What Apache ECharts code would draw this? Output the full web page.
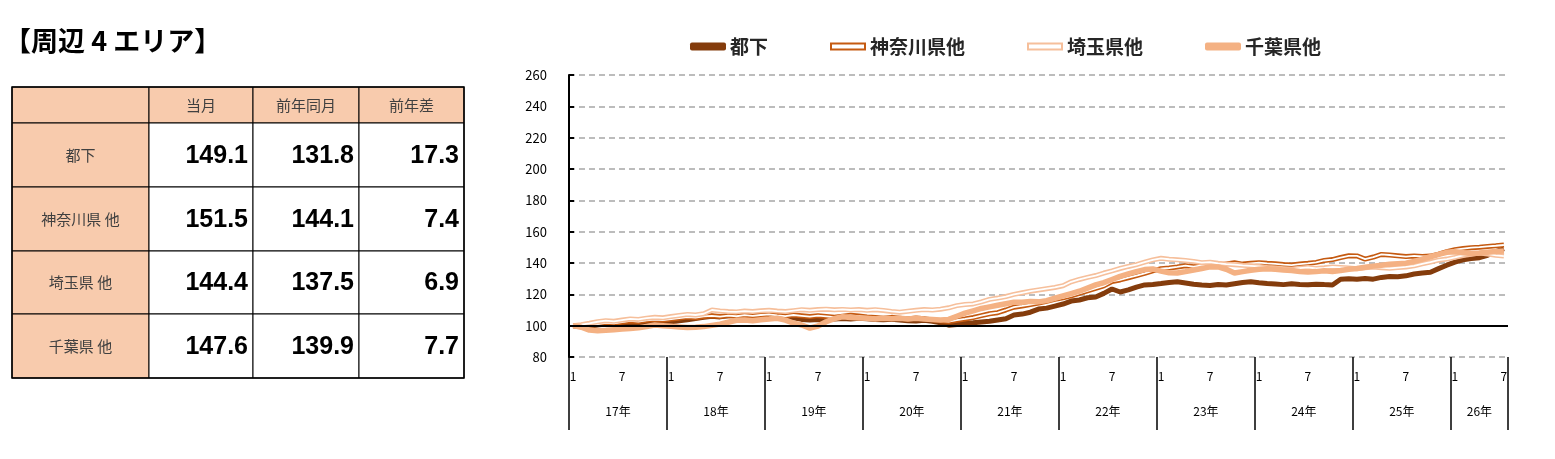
<!DOCTYPE html>
<html>
<head>
<meta charset="utf-8">
<script src="https://cdn.jsdelivr.net/npm/echarts@6.0.0/dist/echarts.min.js"></script>
<style>
  html, body { margin: 0; padding: 0; background: #fff; }
  #chart { width: 1555px; height: 459px; }
</style>
</head>
<body>
<div id="chart"></div>
<script>
// ---- data ----
var yearLabels = ['17年', '18年', '19年', '20年', '21年', '22年', '23年', '24年', '25年', '26年'];
var monthsInLastYear = 7;

var seriesNames = ['都下', '神奈川県他', '埼玉県他', '千葉県他'];

// 2017/1 .. 2026/7, index 2017/1 = 100
var tokaData = [
  100.0, 99.8, 99.6, 100.4, 101.0, 100.7, 101.4, 101.9, 101.4, 102.0, 102.4, 102.1,
  102.5, 103.2, 103.8, 104.5, 105.3, 106.0, 105.6, 106.3, 106.8, 106.4, 106.9, 106.5,
  106.2, 106.7, 106.0, 105.0, 104.0, 103.6, 104.0, 103.8, 104.2, 104.6, 104.3, 104.7,
  104.4, 104.0, 103.7, 104.1, 103.6, 103.2, 102.9, 103.4, 102.8, 101.9, 100.3, 100.8,
  101.6, 101.8, 102.4, 102.8, 103.6, 104.4, 106.8, 107.4, 108.6, 110.6, 111.2, 112.5,
  113.8, 115.7, 116.4, 117.8, 118.3, 120.6, 123.4, 121.5, 122.8, 124.6, 126.0, 126.3,
  126.9, 127.6, 128.0, 127.2, 126.4, 126.0, 125.7, 126.3, 126.0, 126.8, 127.6, 128.0,
  127.4, 126.9, 126.6, 126.2, 126.7, 126.3, 126.1, 126.5, 126.2, 126.0, 129.6, 129.9,
  129.6, 130.1, 129.7, 130.8, 131.4, 131.2, 131.8, 133.0, 133.6, 134.1, 136.4, 138.6,
  140.6, 142.0, 142.8, 143.4, 144.9, 147.2, 149.1
];
var kanagawaData = [
  100.0, 99.6, 100.2, 101.0, 101.8, 101.4, 102.3, 103.0, 102.6, 103.4, 103.9, 103.5,
  104.2, 104.8, 105.5, 105.1, 105.9, 106.3, 105.8, 106.4, 106.0, 106.7, 106.2, 106.8,
  107.2, 106.6, 106.1, 106.8, 106.3, 105.8, 106.4, 105.9, 105.4, 106.0, 106.6, 106.1,
  105.6, 105.2, 104.7, 105.3, 104.8, 104.2, 104.9, 104.4, 103.7, 103.1, 102.6, 103.5,
  104.3, 105.2, 106.4, 107.6, 108.3, 110.0, 111.8, 112.6, 113.5, 114.4, 115.6, 116.8,
  117.8, 119.0, 120.6, 122.2, 123.8, 125.4, 128.2, 129.2, 130.6, 132.0, 133.4, 135.0,
  136.4, 136.8, 137.5, 138.3, 137.6, 138.5, 139.2, 138.6, 139.4, 140.1, 139.3, 139.8,
  140.2, 139.8, 139.5, 139.0, 138.7, 139.3, 139.8, 140.4, 141.6, 142.2, 143.5, 144.6,
  144.5, 142.5, 143.8, 145.5, 145.1, 144.6, 144.1, 144.5, 144.2, 144.4, 145.6, 147.2,
  148.5, 149.2, 149.8, 150.1, 150.6, 151.0, 151.5
];
var saitamaData = [
  100.0, 100.6, 101.5, 102.5, 103.2, 102.8, 103.6, 104.3, 104.0, 104.8, 105.3, 105.0,
  105.8, 106.5, 107.2, 106.8, 107.6, 110.0, 109.4, 109.0, 108.8, 109.3, 109.0, 109.5,
  109.8, 109.3, 109.0, 109.6, 110.2, 109.8, 110.3, 110.5, 110.1, 110.4, 110.0, 110.3,
  109.8, 110.2, 109.7, 109.1, 108.6, 109.2, 109.8, 110.3, 110.0, 110.5, 111.4, 112.8,
  113.5, 113.9, 115.2, 116.8, 117.6, 118.6, 120.0, 121.0, 122.0, 122.8, 123.6, 124.4,
  125.5, 128.0, 129.5, 130.8, 132.0, 133.6, 135.0, 136.5, 137.8, 139.0, 140.5, 142.0,
  143.0, 142.4, 142.0, 141.6, 141.0, 140.2, 140.5, 139.8, 139.3, 138.9, 138.5, 138.2,
  137.8, 137.2, 136.8, 136.4, 136.0, 136.7, 137.2, 136.5, 136.9, 137.5, 137.2, 136.8,
  136.4, 136.9, 137.4, 137.0, 136.6, 137.1, 137.5, 138.2, 139.5, 140.6, 141.8, 142.5,
  143.6, 144.8, 145.5, 146.3, 145.8, 144.9, 144.4
];
var chibaData = [
  100.0, 99.0, 97.2, 96.8, 97.0, 97.4, 97.8, 98.2, 98.6, 99.5, 100.4, 100.0,
  99.6, 99.2, 98.8, 99.0, 99.4, 100.2, 101.0, 102.2, 103.4, 103.6, 103.2, 103.8,
  104.2, 104.7, 103.5, 101.6, 100.4, 98.4, 99.8, 102.5, 104.5, 105.7, 105.2, 104.9,
  104.7, 104.3, 104.8, 104.4, 104.7, 104.2, 104.8, 104.3, 104.0, 103.6, 104.0, 106.0,
  108.0, 109.5, 111.0, 112.0, 113.0, 114.0, 115.0, 115.0, 115.5, 115.2, 116.0, 117.5,
  119.0, 120.5, 122.0, 124.0, 126.0, 127.5, 129.5, 131.5, 133.0, 134.5, 135.8, 136.2,
  134.8, 133.8, 133.6, 134.5, 135.5, 136.5, 137.5, 137.5, 136.0, 133.6, 134.5, 135.4,
  136.0, 136.3, 136.0, 135.6, 135.2, 134.6, 134.2, 134.5, 135.0, 134.6, 135.2, 136.0,
  136.5, 137.3, 138.0, 138.6, 139.2, 139.6, 139.9, 141.0, 142.5, 144.0, 145.5, 146.8,
  147.2, 146.6, 146.0, 146.4, 146.9, 147.3, 147.6
];

// table
var tableTitle = '【周辺 4 エリア】';
var tableHeaders = ['', '当月', '前年同月', '前年差'];
var tableAreas = ['都下', '神奈川県 他', '埼玉県 他', '千葉県 他'];
var currentMonth = [149.1, 151.5, 144.4, 147.6];
var yearAgoMonth = [131.8, 144.1, 137.5, 139.9];
var yearOnYear = [17.3, 7.4, 6.9, 7.7];

// ---- build categories ----
var months = [];
yearLabels.forEach(function (y, i) {
  var n = i === yearLabels.length - 1 ? monthsInLastYear : 12;
  for (var m = 1; m <= n; m++) months.push(y + '/' + m);
});
var total = months.length;

var yearTicks = [];
var yearLabelPos = [];
for (var i = 0; i < yearLabels.length; i++) {
  var start = i * 12;
  var end = Math.min(start + 12, total);
  yearTicks.push(start);
  yearLabelPos.push((start + end) / 2);
}
yearTicks.push(total);

// ---- table graphics ----
var FONT = '"Noto Sans CJK JP", sans-serif';
var colX = [12, 149, 253, 359, 464];
var rowY = [87, 123, 187, 251, 314, 378];
var HEAD_FILL = '#f8cbad';

function buildTable() {
  var els = [];
  els.push({
    type: 'text', left: 4, top: 27,
    style: { text: tableTitle, font: 'bold 27px ' + FONT, fill: '#000' }
  });
  var rows = [tableHeaders];
  for (var r = 0; r < tableAreas.length; r++) {
    rows.push([tableAreas[r], currentMonth[r].toFixed(1), yearAgoMonth[r].toFixed(1), yearOnYear[r].toFixed(1)]);
  }
  rows.forEach(function (row, r) {
    row.forEach(function (txt, c) {
      var x0 = colX[c], x1 = colX[c + 1], y0 = rowY[r], y1 = rowY[r + 1];
      var head = r === 0 || c === 0;
      els.push({
        type: 'rect',
        shape: { x: x0, y: y0, width: x1 - x0, height: y1 - y0 },
        style: { fill: head ? HEAD_FILL : '#fff', stroke: '#000', lineWidth: 1 }
      });
      if (!txt) return;
      els.push({
        type: 'text',
        style: head ? {
          text: txt, x: (x0 + x1) / 2, y: (y0 + y1) / 2,
          align: 'center', verticalAlign: 'middle',
          font: '15px ' + FONT, fill: '#404040'
        } : {
          text: txt, x: x1 - 5, y: (y0 + y1) / 2 + 1,
          align: 'right', verticalAlign: 'middle',
          font: 'bold 25px "Liberation Sans", Arial, sans-serif', fill: '#000'
        }
      });
    });
  });
  els.push({
    type: 'rect',
    shape: { x: colX[0], y: rowY[0], width: colX[4] - colX[0], height: rowY[5] - rowY[0] },
    style: { fill: 'none', stroke: '#000', lineWidth: 1.5 }
  });
  return els;
}

// ---- chart ----
var chart = echarts.init(document.getElementById('chart'));

var hollowIcon = 'path://M0,0 L36,0 L36,8 L0,8 Z M2,2 L2,6 L34,6 L34,2 Z';
var COL_TOKA = '#843c0c';
var COL_KANA = '#c55a11';
var COL_SAIT = '#f6bf9b';
var COL_CHIB = '#f4b183';

function lineSeries(name, data, color, width) {
  return {
    name: name, type: 'line', data: data,
    symbol: 'none', smooth: false, animation: false,
    lineStyle: { color: color, width: width },
    itemStyle: { color: color }
  };
}

var option = {
  animation: false,
  textStyle: { fontFamily: FONT },
  graphic: buildTable(),
  legend: {
    left: 685, top: 32,
    itemWidth: 36, itemHeight: 8, itemGap: 62,
    textStyle: { fontSize: 19, fontWeight: 'bold', color: '#262626', fontFamily: FONT, padding: [0, 0, 0, -1] },
    data: [
      { name: seriesNames[0], icon: 'roundRect' },
      { name: seriesNames[1], icon: hollowIcon },
      { name: seriesNames[2], icon: hollowIcon },
      { name: seriesNames[3], icon: 'roundRect' }
    ]
  },
  grid: { left: 569, right: 47, top: 75, bottom: 102, containLabel: false },
  xAxis: [{
    type: 'category', data: months, boundaryGap: true,
    axisLine: { show: false },
    axisTick: { show: false },
    splitLine: { show: false },
    axisLabel: {
      interval: function (idx) { return idx % 6 === 0; },
      formatter: function (v) { return v.split('/')[1]; },
      fontSize: 12, color: '#000', margin: 13, fontFamily: FONT
    }
  }, {
    type: 'value', min: 0, max: total, position: 'bottom',
    axisLine: { show: false },
    splitLine: { show: false },
    axisTick: {
      show: true, customValues: yearTicks, length: 73,
      lineStyle: { color: '#000', width: 1.5 }
    },
    axisLabel: {
      customValues: yearLabelPos, margin: 48,
      formatter: function (v) { return yearLabels[Math.floor(v / 12)]; },
      fontSize: 12, color: '#000', fontFamily: FONT
    }
  }],
  yAxis: {
    type: 'value', min: 80, max: 260, interval: 20,
    axisLine: { show: true, lineStyle: { color: '#000', width: 2 } },
    axisTick: { show: true, inside: true, length: 5, lineStyle: { color: '#000', width: 2 } },
    axisLabel: { fontSize: 13, color: '#000', margin: 22, fontFamily: FONT },
    splitLine: { show: true, lineStyle: { color: '#a6a6a6', width: 1.5, type: [6, 4] } }
  },
  series: [
    Object.assign(lineSeries(seriesNames[0], tokaData, COL_TOKA, 5), {
      markLine: {
        silent: true, symbol: 'none', label: { show: false },
        lineStyle: { color: '#000', width: 2, type: 'solid' },
        data: [{ yAxis: 100 }]
      }
    }),
    lineSeries(seriesNames[1], kanagawaData, COL_KANA, 5),
    lineSeries(seriesNames[1] + '_in', kanagawaData, '#ffffff', 1.8),
    lineSeries(seriesNames[2], saitamaData, COL_SAIT, 5),
    lineSeries(seriesNames[2] + '_in', saitamaData, '#ffffff', 1.8),
    lineSeries(seriesNames[3], chibaData, COL_CHIB, 5.5)
  ]
};

chart.setOption(option);
</script>
</body>
</html>
